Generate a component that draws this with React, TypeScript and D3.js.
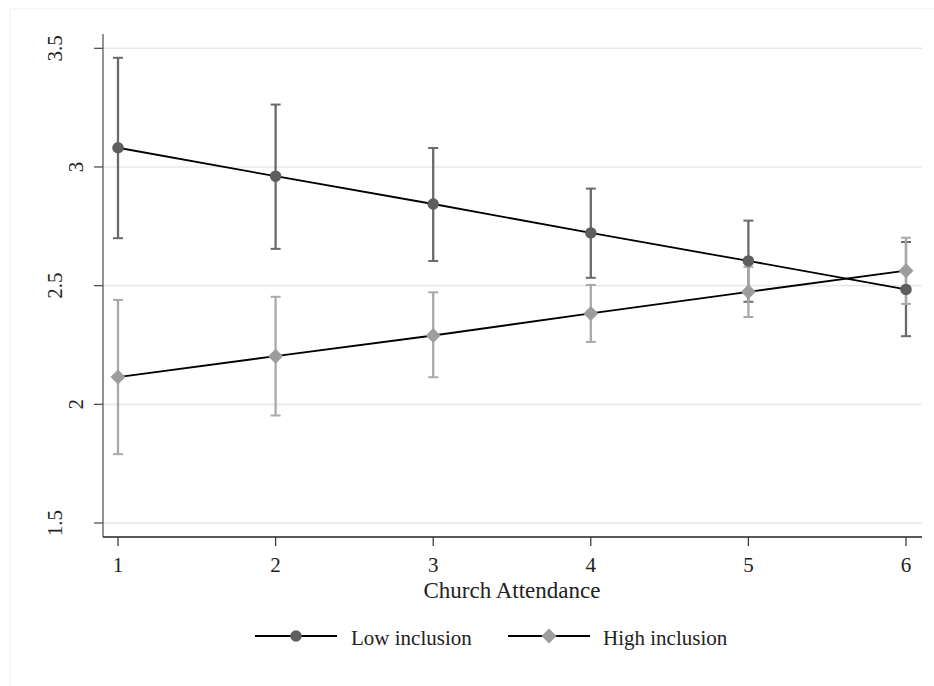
import React from "react";
import * as d3 from "d3";

// predictive margins
const attendance = [1, 2, 3, 4, 5, 6];
const lowMean = [3.081, 2.961, 2.844, 2.722, 2.604, 2.484];
const lowUpper = [3.46, 3.263, 3.08, 2.909, 2.774, 2.684];
const lowLower = [2.7, 2.655, 2.604, 2.533, 2.432, 2.287];
const highMean = [2.115, 2.203, 2.29, 2.383, 2.474, 2.563];
const highUpper = [2.44, 2.453, 2.472, 2.503, 2.579, 2.702];
const highLower = [1.79, 1.953, 2.114, 2.263, 2.368, 2.423];
const yTicks = [1.5, 2, 2.5, 3, 3.5];
const seriesNames = ["Low inclusion", "High inclusion"];

const width = 934;
const height = 686;
const font = "'Liberation Serif', 'Times New Roman', serif";

const lowDark = "#5e5e5e";
const lowCi = "#6a6a6a";
const highMark = "#9d9d9d";
const highCi = "#a9a9a9";

export default function App() {
  const x = d3.scaleLinear().domain([1, 6]).range([118, 906]);
  const y = d3.scaleLinear().domain([1.5, 3.5]).range([523, 48.3]);

  const line = d3
    .line<number>()
    .x((_, i) => x(attendance[i]))
    .y((d) => y(d));

  const circle = d3.symbol(d3.symbolCircle, 106)()!;
  const diamond = d3.symbol(d3.symbolSquare, 112)()!;

  const ci = (upper: number[], lower: number[], color: string, key: string) =>
    attendance.map((a, i) => (
      <g key={key + i} stroke={color} strokeWidth={2.3}>
        <line x1={x(a)} x2={x(a)} y1={y(upper[i])} y2={y(lower[i])} />
        <line x1={x(a) - 5} x2={x(a) + 5} y1={y(upper[i])} y2={y(upper[i])} strokeWidth={2} />
        <line x1={x(a) - 5} x2={x(a) + 5} y1={y(lower[i])} y2={y(lower[i])} strokeWidth={2} />
      </g>
    ));

  return (
    <svg
      width={width}
      height={height}
      style={{ position: "absolute", left: 0, top: 0, background: "#fff" }}
    >
      <rect x={10} y={9} width={940} height={700} fill="none" stroke="#f1f1f1" />

      {/* grid */}
      {yTicks.map((t) => (
        <line key={"g" + t} x1={103} x2={922} y1={y(t)} y2={y(t)} stroke="#e8e8e8" strokeWidth={1.6} />
      ))}

      {/* y axis */}
      <line x1={103} x2={103} y1={34} y2={537} stroke="#666" strokeWidth={1.4} />
      {yTicks.map((t) => {
        const label = String(t);
        const bx = label.length > 1 ? 62 : 83;
        return (
          <g key={"y" + t}>
            <line x1={94} x2={103} y1={y(t)} y2={y(t)} stroke="#444" strokeWidth={1.2} />
            <text
              transform={`translate(${bx},${y(t)}) rotate(-90)`}
              textAnchor="middle"
              fontFamily={font}
              fontSize={21}
              fill="#222"
            >
              {label}
            </text>
          </g>
        );
      })}

      {/* x axis */}
      <line x1={103} x2={922} y1={537} y2={537} stroke="#222" strokeWidth={1.4} />
      {attendance.map((a) => (
        <g key={"x" + a}>
          <line x1={x(a)} x2={x(a)} y1={537} y2={546} stroke="#333" strokeWidth={1.2} />
          <text x={x(a)} y={572} textAnchor="middle" fontFamily={font} fontSize={21} fill="#222">
            {a}
          </text>
        </g>
      ))}
      <text x={512} y={598} textAnchor="middle" fontFamily={font} fontSize={23} fill="#222">
        Church Attendance
      </text>

      {/* confidence intervals */}
      {ci(lowUpper, lowLower, lowCi, "lc")}
      {ci(highUpper, highLower, highCi, "hc")}

      {/* lines and markers */}
      <path d={line(lowMean)!} fill="none" stroke="#000" strokeWidth={1.8} />
      {lowMean.map((v, i) => (
        <path key={"lm" + i} d={circle} transform={`translate(${x(attendance[i])},${y(v)})`} fill={lowDark} />
      ))}
      <path d={line(highMean)!} fill="none" stroke="#000" strokeWidth={1.8} />
      {highMean.map((v, i) => (
        <path
          key={"hm" + i}
          d={diamond}
          transform={`translate(${x(attendance[i])},${y(v)}) rotate(45)`}
          fill={highMark}
        />
      ))}

      {/* legend */}
      <line x1={255} x2={337} y1={636} y2={636} stroke="#000" strokeWidth={1.8} />
      <path d={circle} transform="translate(296,636)" fill={lowDark} />
      <text x={351} y={645} fontFamily={font} fontSize={21} fill="#222">
        {seriesNames[0]}
      </text>
      <line x1={508} x2={590} y1={636} y2={636} stroke="#000" strokeWidth={1.8} />
      <path d={diamond} transform="translate(549,636) rotate(45)" fill={highMark} />
      <text x={603} y={645} fontFamily={font} fontSize={21} fill="#222">
        {seriesNames[1]}
      </text>
    </svg>
  );
}
